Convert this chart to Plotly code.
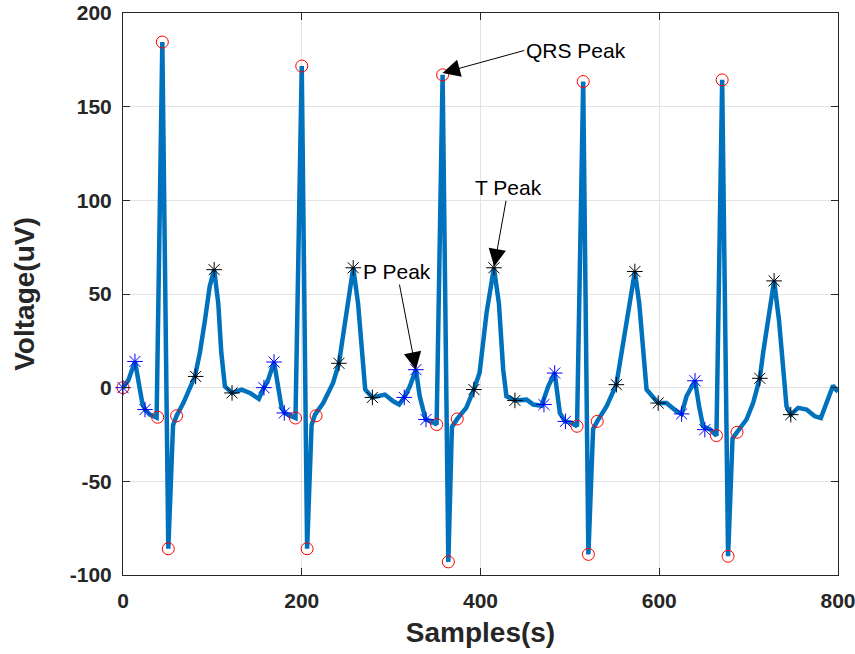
import plotly.graph_objects as go

# ECG trace (vertices)
ecg_x = [0, 6, 13.4, 21.6, 24.6, 30, 37.6, 44, 50.7, 56, 60, 67.5, 80.5, 86, 91.7, 97, 102, 106.6, 110, 114, 122,
         132.7, 142, 152, 157.7, 162.5, 169, 174, 177.5, 181, 188.7, 193, 200, 206, 211, 214.8, 224, 235, 241.6,
         246.5, 252, 257.6, 263, 267, 271, 279, 293, 302.4, 309, 314.7, 321, 327.7, 332, 338.6, 345.3, 350.9,
         357.6, 364, 368, 374, 384, 392.6, 399, 406.8, 415, 420.6, 425.4, 429, 438.5, 451.6, 459, 468.3, 475.8,
         483, 488.8, 494.4, 501.9, 508, 514.9, 520.7, 526, 530.6, 541, 552, 557.8, 563.4, 572.7, 577.6, 582,
         585.8, 598.8, 608, 619.4, 625, 630.5, 640, 644.6, 649, 657.4, 664, 670.4, 677, 682, 687, 697.6, 705,
         712.5, 716.2, 722, 728.5, 734, 738.6, 742.4, 747.2, 755.4, 764.8, 774, 780.8, 787, 790.8, 794.5, 797.5, 800]
ecg_y = [0, 4, 14, -8.2, -11.7, -14.4, -16, 184.5, -86, -20, -15, -8.2, 6, 18.6, 36, 54, 63, 45, 18.6, 0.7, -2.8,
         -1, -2.8, -6, 0, 4.3, 13.7, 0.7, -10.8, -13.5, -15, -16.2, 171.7, -86, -20, -14.4, -8.2, 2.5, 13,
         29, 48.7, 64, 45, 18.5, -1, -5.2, -3.7, -7.3, -9, -5.2, 0.7, 9.6, -4.6, -17, -18, -19.7,
         167, -93, -21, -16.7, -10.8, -1, 8, 40, 64, 45, 9.6, -4.6, -6.8, -6.4, -9, -9.6, 0.7,
         7.8, -13.5, -18, -18.8, -20.6, 163.4, -89, -22, -18, -10, 1.6, 18.5, 36, 62, 45, 18.5,
         -1, -8.2, -8.2, -12.6, -14, -4.6, 3.7, -10, -20.6, -22.4, -25.6, 164.3, -90, -27, -23.8, -17, -8.2,
         5, 18.5, 36, 57, 36, 9.6, -10, -14.4, -10.8, -11.7, -15.3, -16.2, -8.2, -4.6, 1.2, -1, -2]

# QRS points (red circles)
qrs_x = [0, 38.8, 44, 50.7, 60, 193, 200, 206, 216, 351, 357.6, 364, 374, 508, 514.9, 520.7, 530.6, 664, 670.4, 677, 687]
qrs_y = [0, -15.8, 184.5, -86, -15, -16.2, 171.7, -86, -15, -19.7, 167, -93, -16.7, -20.6, 163.4, -89, -18,
         -25.6, 164.3, -90, -23.8]

# P-wave points (blue asterisks)
p_x = [0, 13.4, 24.6, 157.7, 169, 180.5, 314.7, 327.7, 339, 471, 483, 495, 625, 640, 651]
p_y = [0, 14, -11.7, 0, 13.7, -13.5, -5.2, 9.6, -17, -9, 7.8, -18, -14, 3.7, -22.4]

# T-wave points (black asterisks)
t_x = [81.3, 102, 122, 241.6, 257.6, 279, 392.6, 415, 438.5, 552, 572.7, 598.8, 712.5, 728.5, 747.2]
t_y = [6, 63, -2.8, 13, 64, -5.2, -1, 64, -6.8, 1.6, 62, -8.2, 5, 57, -14.4]

x_ticks = [0, 200, 400, 600, 800]
y_ticks = [-100, -50, 0, 50, 100, 150, 200]

FONT = "Liberation Sans, Arial, sans-serif"

fig = go.Figure()
fig.add_trace(go.Scatter(x=ecg_x, y=ecg_y, mode="lines",
                         line=dict(color="#0072BD", width=4.5), hoverinfo="skip"))
fig.add_trace(go.Scatter(x=qrs_x, y=qrs_y, mode="markers", cliponaxis=False,
                         marker=dict(symbol="circle-open", size=12, color="red", line=dict(width=1, color="red"))))
fig.add_trace(go.Scatter(x=p_x, y=p_y, mode="markers", cliponaxis=False,
                         marker=dict(symbol="asterisk-open", size=13, color="blue", line=dict(width=1, color="blue"))))
fig.add_trace(go.Scatter(x=t_x, y=t_y, mode="markers", cliponaxis=False,
                         marker=dict(symbol="asterisk-open", size=13, color="black", line=dict(width=1, color="black"))))

ann_font = dict(family=FONT, size=21, color="black")
annotations = [
    dict(text="QRS Peak", x=357.5, y=168, ax=449, ay=180, xanchor="left"),
    dict(text="T Peak", x=415.3, y=64.7, ax=431.2, ay=106.7, xanchor="center"),
    dict(text="P Peak", x=327.7, y=9.6, ax=306.5, ay=62, xanchor="center"),
]
for a in annotations:
    fig.add_annotation(text=a["text"], x=a["x"], y=a["y"], ax=a["ax"], ay=a["ay"],
                       xref="x", yref="y", axref="x", ayref="y", xanchor=a["xanchor"],
                       showarrow=True, arrowhead=2, arrowsize=3.5, arrowwidth=1, arrowcolor="black",
                       font=ann_font)

axis_common = dict(
    showline=True, linecolor="#262626", linewidth=1, mirror="ticks",
    ticks="inside", ticklen=7, tickcolor="#262626",
    showgrid=True, gridcolor="#e3e3e3", gridwidth=1, zeroline=False,
    automargin=False, ticklabeloverflow="allow",
    tickfont=dict(family=FONT, size=21, color="#262626", weight="bold"),
)

fig.update_layout(
    width=855, height=654,
    margin=dict(l=123, r=17, t=13, b=79),
    paper_bgcolor="white", plot_bgcolor="white",
    showlegend=False,
    xaxis=dict(range=[0, 800], tickvals=x_ticks, ticktext=[str(v) for v in x_ticks],
               ticklabelstandoff=7,
               title=dict(text="Samples(s)", standoff=11,
                          font=dict(family=FONT, size=28, color="#262626", weight="bold")),
               **axis_common),
    yaxis=dict(range=[-100, 200], tickvals=y_ticks, ticktext=[str(v) for v in y_ticks],
               ticklabelstandoff=6,
               title=dict(text="Voltage(uV)", standoff=26,
                          font=dict(family=FONT, size=28, color="#262626", weight="bold")),
               **axis_common),
)

fig.write_html("out.html", config={"displayModeBar": False},
               post_script="document.body.style.margin='0';document.body.style.overflow='hidden';")
